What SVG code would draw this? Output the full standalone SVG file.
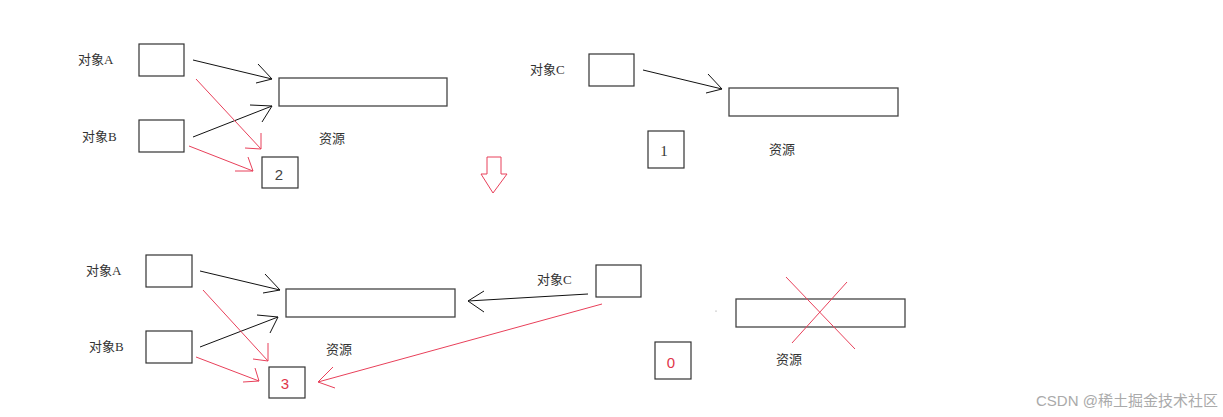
<svg xmlns="http://www.w3.org/2000/svg" width="1223" height="417" viewBox="0 0 1223 417">
<style>
.box{fill:#fff;stroke:#333;stroke-width:1.2}
.res{fill:#fff;stroke:#444;stroke-width:1.3}
.lbl{font-family:"Liberation Serif","Noto Sans CJK SC",serif;font-size:13px;fill:#333}
.num{font-family:"Liberation Sans","Noto Sans CJK SC",sans-serif;font-size:15px;fill:#444;text-anchor:middle;dominant-baseline:central}
.numr{fill:#e0364a}
.bl{fill:none;stroke:#111;stroke-width:1}
.rd{fill:none;stroke:#e8405a;stroke-width:1}
.wm{font-family:"Liberation Sans","Noto Sans CJK SC",sans-serif;font-size:15px;fill:#aaa}
</style>
<rect width="1223" height="417" fill="#fff"/>

<!-- top-left scene -->
<g id="objA1"><rect class="box" x="139" y="44" width="45" height="32"/><text class="lbl" x="78" y="64">对象A</text></g>
<g id="objB1"><rect class="box" x="139" y="120" width="45" height="32"/><text class="lbl" x="82" y="141">对象B</text></g>
<g id="res1"><rect class="res" x="279" y="78" width="168" height="28"/><text class="lbl" x="319" y="143">资源</text></g>
<g id="cnt2"><rect class="box" x="262" y="157" width="36" height="31"/><text class="num" x="279" y="174">2</text></g>

<!-- top-right scene -->
<g id="objC1"><rect class="box" x="589" y="54" width="45" height="32"/><text class="lbl" x="530" y="74">对象C</text></g>
<g id="res2"><rect class="res" x="729" y="88" width="169" height="28"/><text class="lbl" x="769" y="154">资源</text></g>
<g id="cnt1"><rect class="box" x="648" y="131" width="36" height="37"/><text class="num" x="664" y="151" style="font-family:'Liberation Serif',serif;fill:#333">1</text></g>

<!-- down arrow -->
<g id="downArrow"><path d="M487,157 L501,157 L501,174 L507,174 L493,193 L481,174 L487,174 Z" fill="#fff" stroke="#e8405a" stroke-width="1"/></g>

<!-- bottom-left scene -->
<g id="objA2"><rect class="box" x="146" y="255" width="46" height="32"/><text class="lbl" x="86" y="275">对象A</text></g>
<g id="objB2"><rect class="box" x="146" y="331" width="46" height="32"/><text class="lbl" x="89" y="351">对象B</text></g>
<g id="res3"><rect class="res" x="286" y="289" width="169" height="28"/><text class="lbl" x="326" y="354">资源</text></g>
<g id="cnt3"><rect class="box" x="269" y="367" width="36" height="31"/><text class="num numr" x="285" y="383">3</text></g>
<g id="objC2"><rect class="box" x="596" y="265" width="45" height="32"/><text class="lbl" x="537" y="284">对象C</text></g>

<!-- bottom-right scene -->
<g id="res4"><rect class="res" x="736" y="299" width="169" height="28"/><text class="lbl" x="776" y="364">资源</text>
<line class="rd" x1="786" y1="277" x2="855" y2="349"/><line class="rd" x1="847" y1="282" x2="792" y2="343"/></g>
<g id="cnt0"><rect class="box" x="655" y="342" width="36" height="37"/><text class="num numr" x="671" y="362">0</text></g>
<circle cx="716" cy="311" r="0.6" fill="#888"/>

<!-- connectors -->
<g id="connectors">
<path class="bl" d="M193,60 L272,79 M258,64 L272,79 L256,83"/>
<path class="bl" d="M193,137 L272,106 M250,105 L272,106 L262,122"/>
<path class="rd" d="M196,79 L261,149 M261,133 L261,149 L245,148"/>
<path class="rd" d="M189,146 L253,171 M248,157 L253,171 L235,171"/>
<path class="bl" d="M643,70 L722,89 M708,74 L722,89 L706,93"/>
<path class="bl" d="M200,271 L280,290 M265,274 L280,290 L263,293"/>
<path class="bl" d="M200,347 L278,317 M257,315 L278,317 L270,333"/>
<path class="rd" d="M203,290 L268,361 M268,343 L268,361 L253,359"/>
<path class="rd" d="M196,357 L259,381 M255,368 L259,381 L243,382"/>
<path class="bl" d="M588,294 L468,301 M484,291 L468,301 L484,312"/>
<path class="rd" d="M602,304 L318,382 M333,367 L318,382 L335,388"/>
</g>

<text class="wm" x="1036" y="406">CSDN @稀土掘金技术社区</text>
</svg>
